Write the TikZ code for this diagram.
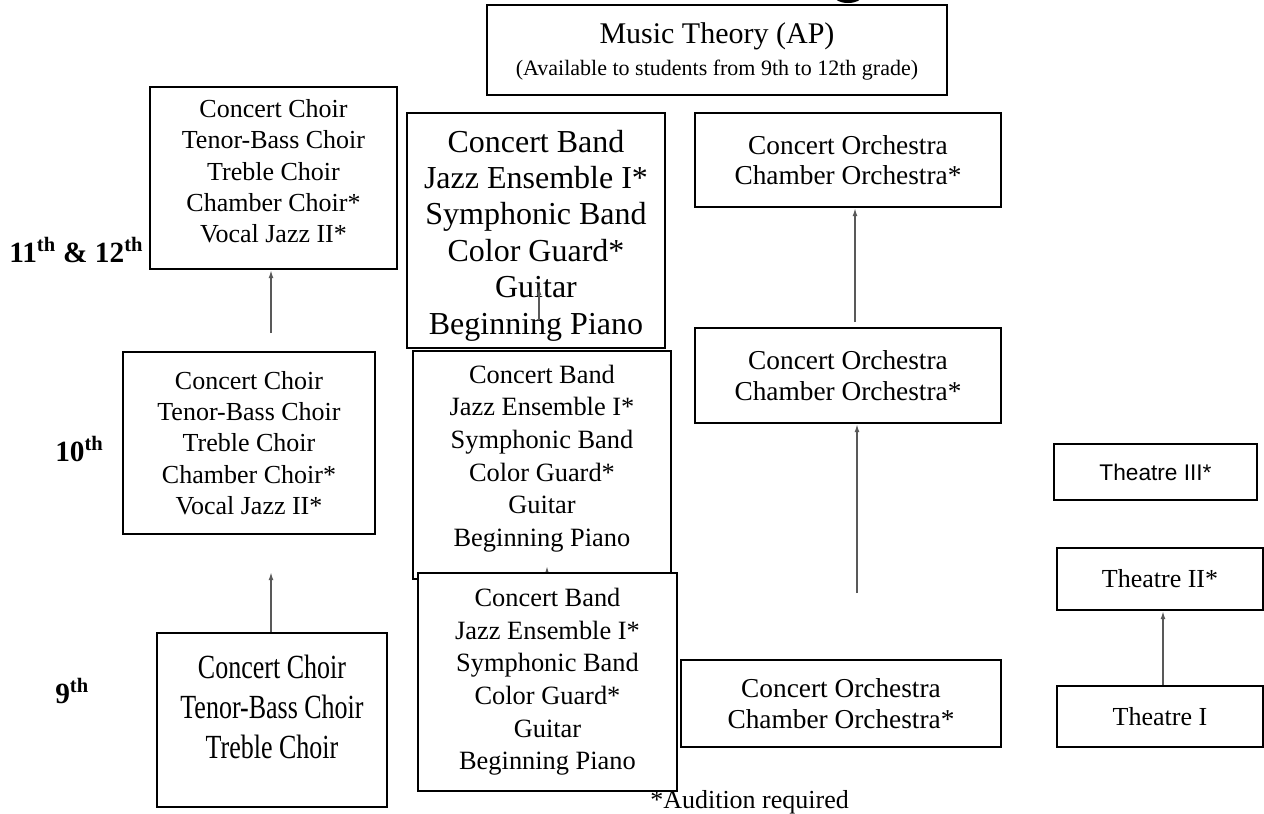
\documentclass[tikz,border=0pt]{standalone}
\usepackage{fontspec}
\usepackage{graphicx}
\setmainfont{Liberation Serif}
\newfontfamily\arialfont{Liberation Sans}
\usetikzlibrary{arrows.meta}
\tikzset{
  box/.style={draw=black,line width=1.5pt,fill=white,inner sep=0pt,align=center,anchor=center},
  conn/.style={draw=black!65,line width=1.1pt,-{Latex[length=6pt,width=3.6pt]}},
  grade/.style={font=\bfseries\fontsize{22pt}{26pt}\selectfont,anchor=base west,inner sep=0pt},
  choirfont/.style={font=\fontsize{19.5pt}{23.5pt}\selectfont},
  bandbig/.style={font=\fontsize{24pt}{27.3pt}\selectfont},
  bandfont/.style={font=\fontsize{19.8pt}{24.5pt}\selectfont},
  orchfont/.style={font=\fontsize{20.5pt}{23pt}\selectfont},
  theafont/.style={font=\fontsize{19.5pt}{22pt}\selectfont},
}
\newcommand{\sth}{\textsuperscript{th}}
\begin{document}
\begin{tikzpicture}[x=0.75pt,y=-0.75pt]
\useasboundingbox (0,0) rectangle (1264,814);
\fill[white] (0,0) rectangle (1264,814);
% fragment of the cut-off heading
\fill[black] (848,-4) ellipse [x radius=14, y radius=7];

% Music theory
\node[box, minimum width=345pt, minimum height=67.5pt] (mt) at (717,50)
  {\raisebox{-1pt}[\height][\depth]{\begin{tabular}{@{}c@{}}{\fontsize{22.5pt}{25pt}\selectfont Music Theory (AP)}\\[9pt]{\fontsize{16.5pt}{19pt}\selectfont (Available to students from 9th to 12th grade)}\end{tabular}}};

% grade labels
\node[grade] (g11) at (9,262) {11\sth{} \& 12\sth};
\node[grade] (g10) at (55,461) {10\sth};
\node[grade] (g9) at (55,703) {9\sth};

% choirs
\node[box, choirfont, minimum width=185.25pt, minimum height=136.5pt] (c11) at (273.5,178)
  {\raisebox{3pt}[\height][\depth]{\begin{tabular}{@{}c@{}}Concert Choir\\Tenor-Bass Choir\\Treble Choir\\Chamber Choir*\\Vocal Jazz II*\end{tabular}}};
\node[box, choirfont, minimum width=189pt, minimum height=136.5pt] (c10) at (249,443)
  {Concert Choir\\Tenor-Bass Choir\\Treble Choir\\Chamber Choir*\\Vocal Jazz II*};
\node[box, minimum width=172.5pt, minimum height=130.5pt] (c9) at (272,720)
  {\raisebox{7pt}[\height][\depth]{\scalebox{1}[1.3]{\fontsize{19.5pt}{23pt}\selectfont\begin{tabular}{@{}c@{}}Concert Choir\\Tenor-Bass Choir\\Treble Choir\end{tabular}}}};

% bands
\node[box, bandbig, minimum width=193.5pt, minimum height=176.25pt] (b11) at (536,230.5)
  {\raisebox{-4pt}[\height][\depth]{\begin{tabular}{@{}c@{}}Concert Band\\Jazz Ensemble I*\\Symphonic Band\\Color Guard*\\Guitar\\Beginning Piano\end{tabular}}};
\coordinate (bin1) at (539,320);
\coordinate (bin2) at (539,287);
\draw[conn] (bin1) -- (bin2);
\node[box, bandfont, minimum width=193.5pt, minimum height=171pt] (b10) at (542,465)
  {\raisebox{5pt}[\height][\depth]{\begin{tabular}{@{}c@{}}Concert Band\\Jazz Ensemble I*\\Symphonic Band\\Color Guard*\\Guitar\\Beginning Piano\end{tabular}}};
\coordinate (b9tip) at (547,566);
\draw[conn] (547,573) -- (b9tip);
\node[box, bandfont, minimum width=194.25pt, minimum height=163.5pt] (b9) at (547.5,682)
  {Concert Band\\Jazz Ensemble I*\\Symphonic Band\\Color Guard*\\Guitar\\Beginning Piano};

% orchestras
\node[box, orchfont, minimum width=229.5pt, minimum height=70.5pt] (o12) at (848,160)
  {Concert Orchestra\\Chamber Orchestra*};
\node[box, orchfont, minimum width=229.5pt, minimum height=71.25pt] (o11) at (848,375.5)
  {Concert Orchestra\\Chamber Orchestra*};
\node[box, orchfont, minimum width=240pt, minimum height=65.25pt] (o9) at (841,703.5)
  {Concert Orchestra\\Chamber Orchestra*};

% theatre
\node[box, font=\arialfont\fontsize{17pt}{20pt}\selectfont, minimum width=152.25pt, minimum height=42pt] (t3) at (1155.5,472) {Theatre III*};
\node[box, theafont, minimum width=154.5pt, minimum height=46.5pt] (t2) at (1160,579) {Theatre II*};
\node[box, theafont, minimum width=154.5pt, minimum height=45.75pt] (t1) at (1160,716.5) {Theatre I};

% connectors
\coordinate (cs10) at (271,333);
\draw[conn] (cs10) -- (cs10 |- c11.south);
\coordinate (ct10) at (271,572);
\draw[conn] (ct10 |- c9.north) -- (ct10);
\coordinate (os11) at (855,322);
\draw[conn] (os11) -- (os11 |- o12.south);
\coordinate (os9) at (857,593);
\draw[conn] (os9) -- (os9 |- o11.south);
\coordinate (ts) at (1163,0);
\draw[conn] (ts |- t1.north) -- (ts |- t2.south);

% footnote
\node[anchor=base west, inner sep=0pt, font=\fontsize{19.5pt}{22pt}\selectfont] (aud) at (650,808) {*Audition required};
\end{tikzpicture}
\end{document}
